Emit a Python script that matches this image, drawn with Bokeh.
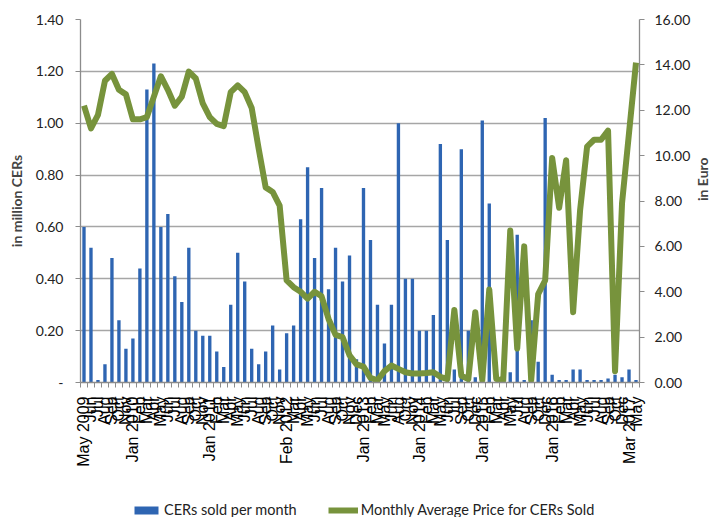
import math
from bokeh.plotting import figure
from bokeh.layouts import column
from bokeh.models import (Range1d, LinearAxis, FixedTicker, NumeralTickFormatter,
                          Legend, LegendItem, ColumnDataSource)
from bokeh.embed import file_html
from bokeh.resources import INLINE

months = [
    "May 2009", "Jun", "Jul", "Aug", "Sep", "Oct", "Nov",
    "Jan 2010", "Feb", "Mar", "Apr", "May", "Jun", "Jul", "Aug", "Sep", "Oct", "Nov",
    "Jan 2011", "Feb", "Mar", "Apr", "May", "Jun", "Jul", "Aug", "Sep", "Oct", "Nov",
    "Feb 2012", "Mar", "Apr", "May", "Jun", "Jul", "Aug", "Sep", "Oct", "Nov", "Dec",
    "Jan 2013", "Feb", "Mar", "May", "Jun", "Aug", "Oct", "Nov",
    "Jan 2014", "Feb", "Mar", "May", "Jun", "Jul", "Sep", "Oct", "Dec",
    "Jan 2015", "Feb", "Mar", "Apr", "May", "Jul", "Aug", "Sep", "Oct", "Dec",
    "Jan 2016", "Feb", "Mar", "Apr", "May", "Jun", "Jul", "Aug", "Sep", "Oct", "Dec",
    "Mar 2017", "May",
]

cers_sold = [
    0.60, 0.52, 0.01, 0.07, 0.48, 0.24, 0.13, 0.17, 0.44, 1.13,
    1.23, 0.60, 0.65, 0.41, 0.31, 0.52, 0.20, 0.18, 0.18, 0.12,
    0.06, 0.30, 0.50, 0.39, 0.13, 0.07, 0.12, 0.22, 0.05, 0.19,
    0.22, 0.63, 0.83, 0.48, 0.75, 0.36, 0.52, 0.39, 0.49, 0.09,
    0.75, 0.55, 0.30, 0.15, 0.30, 1.00, 0.40, 0.40, 0.20, 0.20,
    0.26, 0.92, 0.55, 0.05, 0.90, 0.20, 0.02, 1.01, 0.69, 0.00,
    0.01, 0.04, 0.57, 0.01, 0.24, 0.08, 1.02, 0.03, 0.01, 0.01,
    0.05, 0.05, 0.01, 0.01, 0.01, 0.015, 0.03, 0.02, 0.05, 0.01,
]

avg_price = [
    12.2, 11.2, 11.8, 13.3, 13.6, 12.9, 12.7, 11.6, 11.6, 11.7,
    12.6, 13.5, 12.9, 12.2, 12.6, 13.7, 13.4, 12.3, 11.7, 11.4,
    11.3, 12.8, 13.1, 12.8, 12.1, 10.3, 8.6, 8.4, 7.8, 4.5,
    4.2, 4.0, 3.7, 4.0, 3.8, 2.8, 2.1, 2.0, 1.2, 0.8,
    0.7, 0.2, 0.1, 0.5, 0.75, 0.6, 0.45, 0.4, 0.4, 0.42,
    0.45, 0.25, 0.15, 3.2, 0.3, 0.15, 3.1, 0.1, 4.1, 0.15,
    0.1, 6.7, 1.5, 6.0, 0.1, 3.9, 4.5, 9.9, 7.7, 9.8,
    3.1, 7.6, 10.4, 10.7, 10.7, 11.1, 0.5, 7.9, 11.0, 14.1,
]

left_ticks = [0, 0.2, 0.4, 0.6, 0.8, 1.0, 1.2, 1.4]
right_ticks = [0, 2, 4, 6, 8, 10, 12, 14, 16]

n = len(months)
idx = list(range(n))
src = ColumnDataSource(dict(x=idx, cers=cers_sold, price=avg_price))

BAR = "#2e65b2"
GREEN = "#77933c"
AXIS = "#8c8c8c"

p = figure(width=722, height=480, output_backend="svg", toolbar_location=None,
           x_range=Range1d(-0.5, n - 0.5), y_range=Range1d(0, 1.4),
           min_border_left=80, min_border_right=75, min_border_top=19,
           min_border_bottom=98)
p.extra_y_ranges = {"price": Range1d(0, 16)}
p.outline_line_color = None
p.background_fill_color = "white"
p.border_fill_color = "white"

p.xgrid.visible = False
p.ygrid.ticker = FixedTicker(ticks=left_ticks)
p.ygrid.grid_line_color = "#a6a6a6"
p.ygrid.grid_line_width = 1.5

# x axis
xa = p.xaxis[0]
xa.ticker = FixedTicker(ticks=idx, minor_ticks=[k - 0.5 for k in range(n + 1)])
xa.major_label_overrides = {i: months[i] for i in idx}
xa.major_label_orientation = math.pi / 2
xa.major_tick_out = 0
xa.major_tick_in = 0
xa.minor_tick_out = 5
xa.minor_tick_in = 0
xa.minor_tick_line_color = AXIS
xa.axis_line_color = AXIS
xa.axis_line_width = 1.3
xa.major_label_standoff = 9
xa.major_label_text_font = "Liberation Sans"
xa.major_label_text_font_size = "16px"
xa.major_label_text_color = "#000000"

# left axis
ya = p.yaxis[0]
ya.ticker = FixedTicker(ticks=left_ticks)
ya.formatter = NumeralTickFormatter(format="0.00")
ya.major_label_overrides = {0: "-"}
ya.axis_label = "in million CERs"
ya.axis_label_text_font = "Lato"
ya.axis_label_text_font_style = "bold"
ya.axis_label_text_font_size = "14px"
ya.axis_label_standoff = 8
ya.major_label_text_font = "Lato"
ya.major_label_text_font_size = "14px"
ya.major_label_text_color = "#222222"
ya.major_label_standoff = 12
ya.major_tick_out = 5
ya.major_tick_in = 0
ya.minor_tick_line_color = None
ya.major_tick_line_color = AXIS
ya.axis_line_color = AXIS
ya.axis_line_width = 1.3

# right axis
ra = LinearAxis(y_range_name="price", ticker=FixedTicker(ticks=right_ticks),
                formatter=NumeralTickFormatter(format="0.00"),
                axis_label="in Euro")
ra.axis_label_text_font = "Lato"
ra.axis_label_text_font_style = "bold"
ra.axis_label_text_font_size = "14px"
ra.axis_label_standoff = 9
ra.major_label_text_font = "Lato"
ra.major_label_text_font_size = "14px"
ra.major_label_text_color = "#222222"
ra.major_label_standoff = 10
ra.major_tick_out = 5
ra.major_tick_in = 0
ra.minor_tick_line_color = None
ra.major_tick_line_color = AXIS
ra.axis_line_color = AXIS
ra.axis_line_width = 1.3
try:
    ra.axis_label_orientation = math.pi / 2
except Exception:
    pass
p.add_layout(ra, "right")

bars = p.vbar(x="x", top="cers", width=0.48, source=src,
              fill_color=BAR, line_color=None)
line = p.line(x="x", y="price", source=src, y_range_name="price",
              line_color=GREEN, line_width=6, line_join="round")

# legend strip below the chart (its frame is aligned with the chart's frame)
lg = figure(width=722, height=37, output_backend="svg", toolbar_location=None,
            x_range=Range1d(0, 1), y_range=Range1d(0, 1),
            x_axis_type=None, y_axis_type=None,
            min_border_left=0, min_border_right=0, min_border_top=0,
            min_border_bottom=0)
lg.outline_line_color = None
lg.background_fill_color = "white"
lg.border_fill_color = "white"
lg.xgrid.visible = False
lg.ygrid.visible = False
# swatch-only renderers (no visible data)
nan = float("nan")
key_bar = lg.vbar(x=[nan], top=[nan], width=0.5, fill_color=BAR, line_color=None)
key_line = lg.line(x=[nan, nan], y=[nan, nan], line_color=GREEN, line_width=6)

legend = Legend(items=[LegendItem(label="CERs sold per month", renderers=[key_bar]),
                       LegendItem(label="Monthly Average Price for CERs Sold", renderers=[key_line])],
                orientation="horizontal", location=(51, -1),
                glyph_width=30, glyph_height=10, label_standoff=3, spacing=31,
                padding=2, margin=0, border_line_color=None,
                background_fill_alpha=0,
                label_text_font="Lato", label_text_font_size="14.5px",
                label_text_color="#222222", label_height=16)
lg.add_layout(legend)

open("out.html", "w").write(file_html(column(p, lg, spacing=0), INLINE))
